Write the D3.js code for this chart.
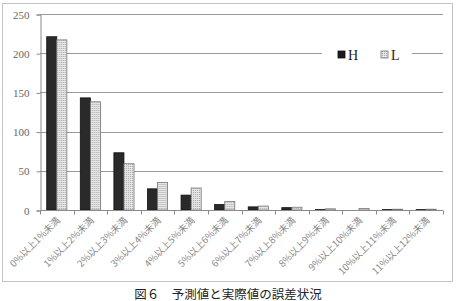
<!DOCTYPE html>
<html>
<head>
<meta charset="utf-8">
<script src="https://cdn.jsdelivr.net/npm/d3@7"></script>
<style>
  body { margin: 0; background: #fff; }
  svg { display: block; }
</style>
</head>
<body>
<div id="chart"></div>
<script>
// data
var categories = ["0%以上1%未満", "1%以上2%未満", "2%以上3%未満", "3%以上4%未満",
    "4%以上5%未満", "5%以上6%未満", "6%以上7%未満", "7%以上8%未満",
    "8%以上9%未満", "9%以上10%未満", "10%以上11%未満", "11%以上12%未満"];
var seriesNames = ["H", "L"];
var valuesH = [221, 143, 73, 27, 19, 7, 4, 3, 0.5, 0, 0.5, 0.5];
var valuesL = [217, 138, 59, 35, 28, 11, 5, 3.5, 1.5, 2, 1, 1];
var yTicks = [0, 50, 100, 150, 200, 250];
var caption = "図６　予測値と実際値の誤差状況";

var width = 456, height = 301;
var margin = { left: 40, right: 13, top: 14, bottom: 91 };

var svg = d3.select("#chart").append("svg")
    .attr("width", width)
    .attr("height", height);

// dotted fill for the L series
var defs = svg.append("defs");
var pat = defs.append("pattern")
    .attr("id", "dots")
    .attr("width", 2)
    .attr("height", 2)
    .attr("patternUnits", "userSpaceOnUse");
pat.append("rect").attr("width", 2).attr("height", 2).attr("fill", "#e6e6e6");
pat.append("rect").attr("width", 1).attr("height", 1).attr("fill", "#a8a8a8");

//outer frame
svg.append("rect")
    .attr("x", 2.5).attr("y", 3.5)
    .attr("width", 450).attr("height", 278)
    .attr("fill", "none")
    .attr("stroke", "#c4c4c4");

var x = d3.scaleBand()
    .domain(categories)
    .range([margin.left, width - margin.right])
    .paddingInner(0.4)
    .paddingOuter(0.2);

var xInner = d3.scaleBand()
    .domain(seriesNames)
    .range([0, x.bandwidth()]);

var y = d3.scaleLinear()
    .domain([0, 250])
    .range([210, margin.top]);

// legend position (gridline gets broken behind it)
var legendX = 322, legendW = 90;

//gridlines
yTicks.filter(function(d) { return d > 0; }).forEach(function(t) {
    var yy = Math.round(y(t)) + 0.5;
    if (t === 200) {
        svg.append("line").attr("x1", margin.left).attr("x2", legendX)
            .attr("y1", yy).attr("y2", yy).attr("stroke", "#9a9a9a");
        svg.append("line").attr("x1", legendX + legendW).attr("x2", width - margin.right)
            .attr("y1", yy).attr("y2", yy).attr("stroke", "#9a9a9a");
    } else {
        svg.append("line").attr("x1", margin.left).attr("x2", width - margin.right)
            .attr("y1", yy).attr("y2", yy).attr("stroke", "#9a9a9a");
    }
});

// y axis
var yAxis = d3.axisLeft(y).tickValues(yTicks).tickSize(4).tickPadding(7);
var gy = svg.append("g")
    .attr("transform", "translate(" + (margin.left + 0.5) + ",0.5)")
    .call(yAxis);
gy.selectAll("path, line").attr("stroke", "#8a8a8a");
gy.selectAll("text")
    .attr("font-family", "'Liberation Serif', 'DejaVu Serif', serif")
    .attr("font-size", 11)
    .attr("fill", "#666");

// bars
var groups = svg.selectAll(".grp")
    .data(categories.map(function(c, i) { return { cat: c, vals: [valuesH[i], valuesL[i]] }; }))
    .enter().append("g")
    .attr("class", "grp")
    .attr("transform", function(d) { return "translate(" + x(d.cat) + ",0)"; });

groups.selectAll("rect")
    .data(function(d) { return d.vals.map(function(v, j) { return { s: seriesNames[j], v: v }; }); })
    .enter().append("rect")
    .attr("x", function(d) { return xInner(d.s); })
    .attr("y", function(d) { return y(d.v); })
    .attr("width", xInner.bandwidth())
    .attr("height", function(d) { return y(0) - y(d.v); })
    .attr("fill", function(d) { return d.s === "H" ? "#2a2a2a" : "url(#dots)"; })
    .attr("stroke", function(d) { return d.s === "H" ? "#111" : "#777"; })
    .attr("stroke-width", 0.8);

// x axis line with ticks at category boundaries
var baseY = Math.round(y(0)) + 0.5;
svg.append("line")
    .attr("x1", margin.left).attr("x2", width - margin.right)
    .attr("y1", baseY).attr("y2", baseY)
    .attr("stroke", "#8a8a8a");
d3.range(categories.length + 1).forEach(function(i) {
    var xx = Math.round(margin.left + i * x.step()) + 0.5;
    svg.append("line")
        .attr("x1", xx).attr("x2", xx)
        .attr("y1", baseY).attr("y2", baseY + 4)
        .attr("stroke", "#8a8a8a");
});

// rotated category labels
svg.selectAll(".xlab")
    .data(categories)
    .enter().append("text")
    .attr("class", "xlab")
    .attr("transform", function(d) {
        return "translate(" + (x(d) + x.bandwidth() / 2 + 4) + ",221) rotate(-45)";
    })
    .attr("text-anchor", "end")
    .attr("font-family", "'Noto Sans CJK JP', sans-serif")
    .attr("font-size", 9.5)
    .attr("fill", "#888")
    .text(function(d) { return d; });

// legend
var leg = svg.append("g").attr("transform", "translate(" + (legendX + 16) + ",55)");
seriesNames.forEach(function(s, i) {
    var gx = i * 43;
    leg.append("rect")
        .attr("x", gx).attr("y", -4)
        .attr("width", 7).attr("height", 7)
        .attr("fill", s === "H" ? "#1a1a1a" : "url(#dots)")
        .attr("stroke", s === "H" ? "#111" : "#777")
        .attr("stroke-width", 0.8);
    leg.append("text")
        .attr("x", gx + 10).attr("y", 4.5)
        .attr("font-family", "'Liberation Serif', 'DejaVu Serif', serif")
        .attr("font-size", 14)
        .attr("fill", "#222")
        .text(s);
});

// caption (nudged up so it is not clipped by the window)
svg.append("text")
    .attr("x", 228).attr("y", 298.5)
    .attr("text-anchor", "middle")
    .attr("font-family", "'Noto Sans CJK JP', sans-serif")
    .attr("font-size", 12.5)
    .attr("fill", "#222")
    .text(caption);
</script>
</body>
</html>
